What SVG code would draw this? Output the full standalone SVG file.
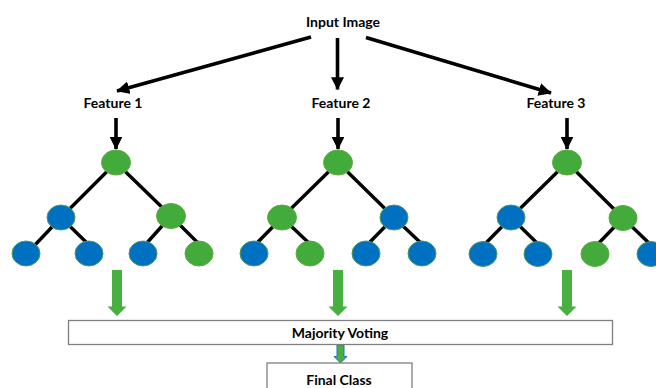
<svg xmlns="http://www.w3.org/2000/svg" width="656" height="388" viewBox="0 0 656 388">
  <defs>
    <style>
      .lbl { font-family: Lato, "Open Sans", "Liberation Sans", sans-serif; font-weight: 700; font-size: 14px; fill: #000; text-anchor: middle; }
      .arrow { stroke: #000; stroke-width: 3.6; fill: none; marker-end: url(#head); }
      .edge { stroke: #000; stroke-width: 3.4; fill: none; }
      .g { fill: #43AB3C; stroke: #5FA83F; stroke-width: 1; }
      .b { fill: #0070C0; stroke: #4E9A5A; stroke-width: 1; }
      .box { fill: #fff; stroke: #7F7F7F; stroke-width: 1.3; }
      .vote { fill: #47B040; }
    </style>
    <marker id="head" viewBox="0 0 10 10" refX="9.5" refY="5" markerWidth="3.6" markerHeight="3.6" markerUnits="strokeWidth" orient="auto">
      <path d="M0,0 L10,5 L0,10 Z" fill="#000"/>
    </marker>
  </defs>

  <rect width="656" height="388" fill="#fff"/>

  <!-- labels -->
  <g id="input-image"><text class="lbl" x="343" y="26.5">Input Image</text></g>
  <g id="feature-1"><text class="lbl" x="113" y="107.5">Feature 1</text></g>
  <g id="feature-2"><text class="lbl" x="341" y="107.5">Feature 2</text></g>
  <g id="feature-3"><text class="lbl" x="556" y="107.5">Feature 3</text></g>

  <!-- black connectors -->
  <g id="connectors">
    <line class="arrow" x1="311" y1="37" x2="117" y2="91"/>
    <line class="arrow" x1="337.5" y1="38" x2="337.5" y2="89.5"/>
    <line class="arrow" x1="366" y1="37.5" x2="551" y2="93"/>
    <line class="arrow" x1="116" y1="118" x2="116" y2="149"/>
    <line class="arrow" x1="338" y1="118" x2="338" y2="149"/>
    <line class="arrow" x1="567" y1="118" x2="567" y2="149"/>

    <!-- tree 1 edges -->
    <line class="edge" x1="116" y1="162.5" x2="61" y2="217.5"/>
    <line class="edge" x1="116" y1="162.5" x2="171" y2="216"/>
    <line class="edge" x1="61" y1="217.5" x2="34" y2="246"/>
    <line class="edge" x1="61" y1="217.5" x2="88" y2="244"/>
    <line class="edge" x1="171" y1="216" x2="145" y2="245"/>
    <line class="edge" x1="171" y1="216" x2="200" y2="245"/>

    <!-- tree 2 edges -->
    <line class="edge" x1="338" y1="162.5" x2="282" y2="217.5"/>
    <line class="edge" x1="338" y1="162.5" x2="394" y2="217.5"/>
    <line class="edge" x1="282" y1="217.5" x2="255" y2="245"/>
    <line class="edge" x1="282" y1="217.5" x2="311" y2="245"/>
    <line class="edge" x1="394" y1="217.5" x2="367" y2="245"/>
    <line class="edge" x1="394" y1="217.5" x2="423" y2="245"/>

    <!-- tree 3 edges -->
    <line class="edge" x1="567" y1="162.5" x2="511" y2="217.5"/>
    <line class="edge" x1="567" y1="162.5" x2="623" y2="218"/>
    <line class="edge" x1="511" y1="217.5" x2="484" y2="245"/>
    <line class="edge" x1="511" y1="217.5" x2="539" y2="245"/>
    <line class="edge" x1="623" y1="218" x2="596" y2="246"/>
    <line class="edge" x1="623" y1="218" x2="652" y2="246"/>

    <!-- vote arrows -->
    <polygon class="vote" points="112,270 122,270 122,306.5 126.5,306.5 117,316 107.5,306.5 112,306.5"/>
    <polygon class="vote" points="333,270 343,270 343,306.5 347.5,306.5 338,316 328.5,306.5 333,306.5"/>
    <polygon class="vote" points="562,270 572,270 572,306.5 576.5,306.5 567,316 557.5,306.5 562,306.5"/>
    <polygon points="337,345 344,345 344,356.5 347,356.5 340.5,363 334,356.5 337,356.5" fill="#47B040" stroke="#2F6EBA" stroke-width="1"/>
  </g>

  <!-- tree 1 -->
  <g id="tree-1">
    <ellipse class="g" cx="116" cy="162.5" rx="14.5" ry="12.5"/>
    <ellipse class="b" cx="61" cy="217.5" rx="14" ry="12.5"/>
    <ellipse class="g" cx="171" cy="216" rx="14.5" ry="12.5"/>
    <ellipse class="b" cx="26" cy="253.5" rx="14" ry="12.5"/>
    <ellipse class="b" cx="89" cy="253.5" rx="14" ry="12.5"/>
    <ellipse class="b" cx="143" cy="253.5" rx="14" ry="12.5"/>
    <ellipse class="g" cx="199" cy="253.5" rx="14" ry="12.5"/>
  </g>

  <!-- tree 2 -->
  <g id="tree-2">
    <ellipse class="g" cx="338" cy="162.5" rx="14.5" ry="12.5"/>
    <ellipse class="g" cx="282" cy="217.5" rx="14.5" ry="12.5"/>
    <ellipse class="b" cx="394" cy="217.5" rx="14" ry="12.5"/>
    <ellipse class="b" cx="254" cy="253.5" rx="14" ry="12.5"/>
    <ellipse class="g" cx="310" cy="253.5" rx="14" ry="12.5"/>
    <ellipse class="b" cx="366" cy="253.5" rx="14" ry="12.5"/>
    <ellipse class="b" cx="422" cy="253.5" rx="14" ry="12.5"/>
  </g>

  <!-- tree 3 -->
  <g id="tree-3">
    <ellipse class="g" cx="567" cy="162.5" rx="14.5" ry="12.5"/>
    <ellipse class="b" cx="511" cy="217.5" rx="14" ry="12.5"/>
    <ellipse class="g" cx="623" cy="218" rx="14" ry="12.5"/>
    <ellipse class="b" cx="483" cy="254" rx="14" ry="12.5"/>
    <ellipse class="b" cx="538" cy="254" rx="14" ry="12.5"/>
    <ellipse class="g" cx="595" cy="254" rx="14" ry="12.5"/>
    <ellipse class="b" cx="651" cy="254" rx="14" ry="12.5"/>
  </g>

  <!-- voting -->
  <g id="majority-voting">
    <rect class="box" x="68.5" y="320.5" width="544" height="24"/>
    <text class="lbl" x="340" y="337.5">Majority Voting</text>
  </g>

  <g id="final-class">
    <rect class="box" x="267" y="363" width="145" height="30"/>
    <text class="lbl" x="339" y="385">Final Class</text>
  </g>
</svg>
